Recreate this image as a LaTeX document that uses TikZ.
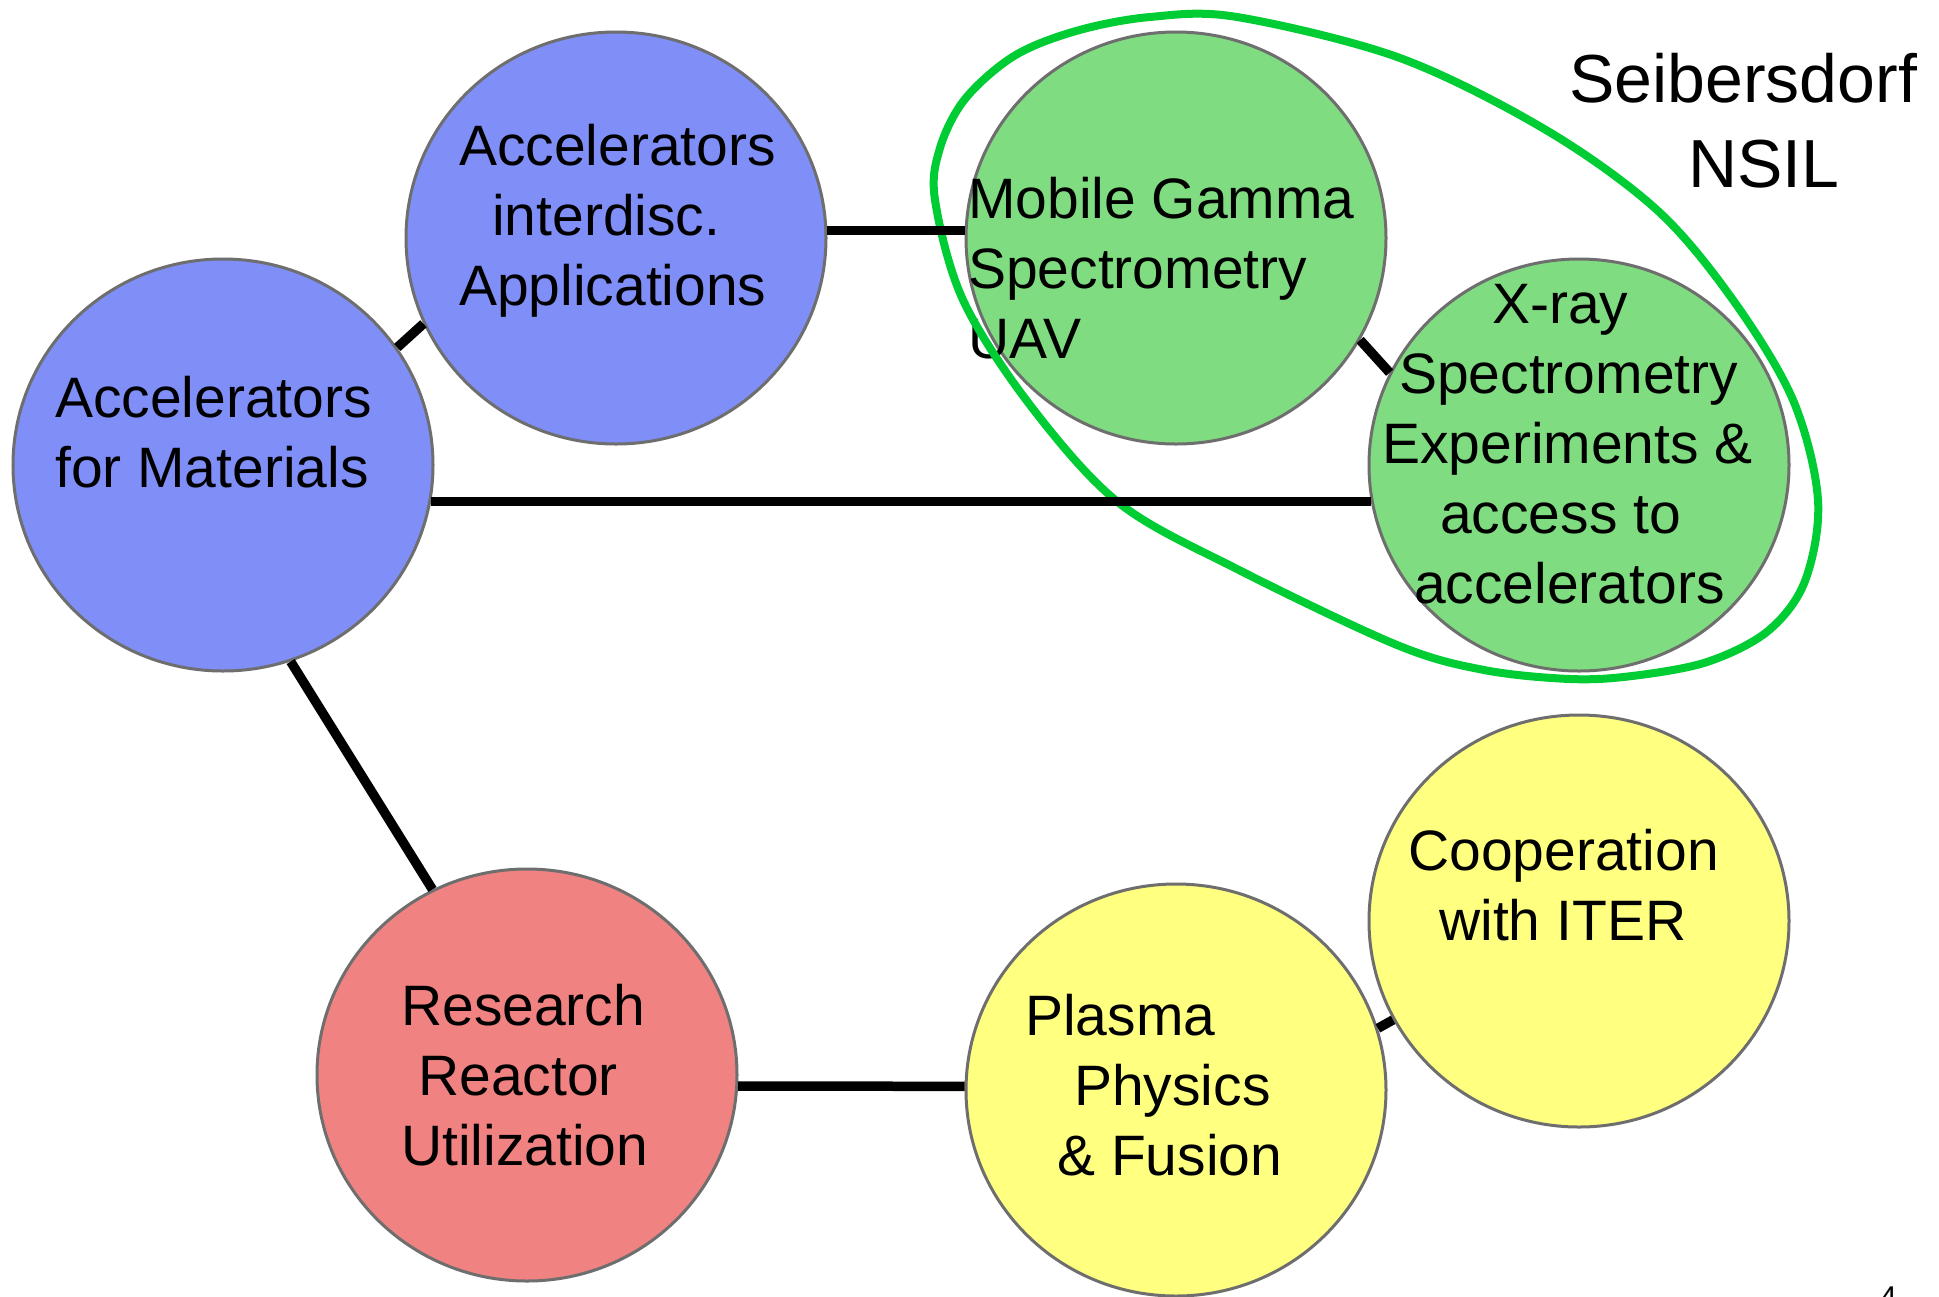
\documentclass[tikz,border=0pt]{standalone}
\usepackage{fontspec}
\setmainfont{Liberation Sans}
\usetikzlibrary{shapes.geometric}
\definecolor{cblue}{RGB}{127,143,247}
\definecolor{cgreen}{RGB}{128,220,128}
\definecolor{cred}{RGB}{240,130,130}
\definecolor{cyellow}{RGB}{255,255,128}
\definecolor{bordergray}{RGB}{110,110,110}
\definecolor{ringgreen}{RGB}{0,204,51}
\newcommand\tblk[1]{\begin{tabular}[t]{@{}l@{}}#1\end{tabular}}
\begin{document}
\begin{tikzpicture}[x=1bp,y=-1bp,
  bubble/.style={ellipse, minimum width=420bp, minimum height=412bp, inner sep=0pt, draw=bordergray, line width=3bp},
  txt/.style={anchor=base west, inner sep=0pt, font=\fontsize{57bp}{70bp}\selectfont},
  bigtxt/.style={anchor=base west, inner sep=0pt, font=\fontsize{68bp}{85bp}\selectfont},
  conn/.style={line width=9.5bp, black},
  ring/.style={line width=8bp, ringgreen}]
\useasboundingbox[fill=white] (0,0) rectangle (1939,1296);

% bubbles
\node[bubble, fill=cblue]   (mat)  at (223,465)  {};
\node[bubble, fill=cblue]   (int)  at (616,238)  {};
\node[bubble, fill=cgreen]  (mob)  at (1176,238) {};
\node[bubble, fill=cgreen]  (xray) at (1579,465) {};
\node[bubble, fill=cred]    (rea)  at (527,1075) {};
\node[bubble, fill=cyellow] (pla)  at (1176,1090) {};
\node[bubble, fill=cyellow] (coop) at (1579,921) {};

% texts
\node[txt] (tmat) at (55,417) {\tblk{Accelerators\\for Materials}};
\node[txt] (tint) at (459,165) {\tblk{Accelerators\\\hspace*{33bp}interdisc.\\Applications}};
\node[txt] (tmob) at (968,218) {\tblk{Mobile Gamma\\Spectrometry\\UAV}};
\node[txt] (txray) at (1382,323) {\tblk{\hspace*{110bp}X-ray\\\hspace*{17bp}Spectrometry\\Experiments \&\\\hspace*{58bp}access to\\\hspace*{32bp}accelerators}};
\node[txt] (trea) at (401,1025) {\tblk{Research\\\hspace*{17bp}Reactor\\Utilization}};
\node[txt] (tpla) at (1025,1035) {\tblk{Plasma\\\hspace*{49bp}Physics\\\hspace*{32bp}\& Fusion}};
\node[txt] (tcoop) at (1408,870) {\tblk{Cooperation\\\hspace*{31bp}with ITER}};
\node[bigtxt] (tseib) at (1569,102) {\tblk{Seibersdorf\\\hspace*{119bp}NSIL}};
\node[anchor=base west, inner sep=0pt, font=\fontsize{30bp}{36bp}\selectfont] (pnum) at (1880,1307) {4};

% green ring
\draw[ring] plot[smooth cycle, tension=0.55] coordinates {
 (935,200) (940,148) (965,99) (1014,56) (1076,31) (1150,17) (1237,17)
 (1400,58) (1546,130) (1657,210) (1733,300) (1793,400)
 (1818,500) (1805,581) (1768,631) (1707,662) (1632,676) (1570,679)
 (1484,670) (1397,645) (1237,569) (1119,503) (1030,405) (963,300)};

% connectors
\draw[conn] (mat.34) -- (int.204);
\draw[conn] (int.2) -- (mob.178);
\draw[conn] (mob.-29) -- (xray.154);
\draw[conn] (mat.-10.5) -- (xray.190.5);
\draw[conn] (mat.-71) -- (rea.117);
\draw[conn] (rea.-3) -- (pla.179);
\draw[conn] (pla.17) -- (coop.208);
\end{tikzpicture}
\end{document}
